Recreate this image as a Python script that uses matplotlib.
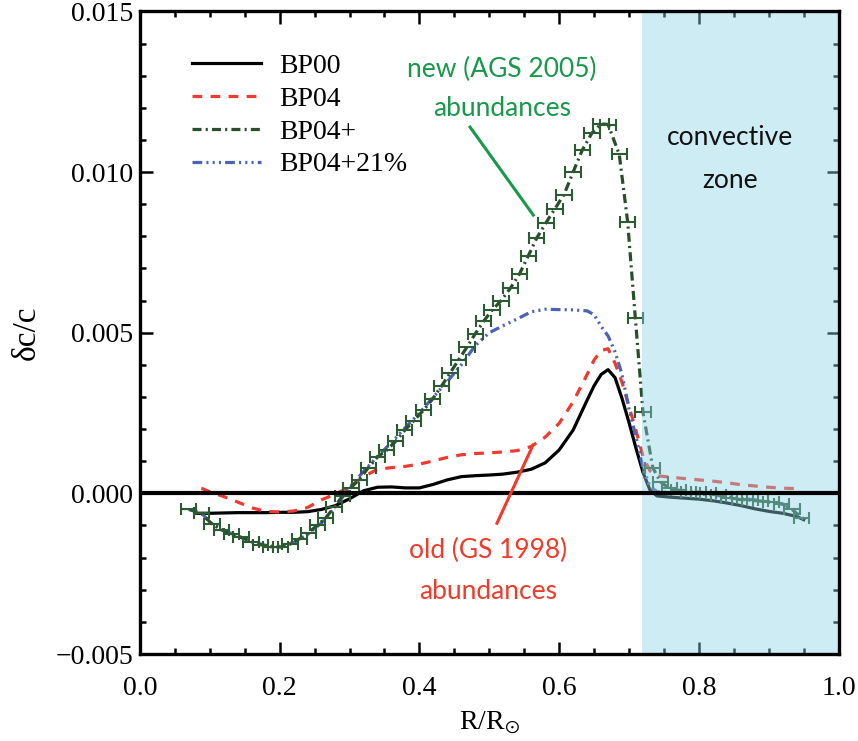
import numpy as np
import matplotlib
matplotlib.use("Agg")
import matplotlib.pyplot as plt
from matplotlib.ticker import MultipleLocator, FixedLocator, FixedFormatter
from matplotlib.lines import Line2D

plt.rcParams['font.family'] = ['Liberation Serif', 'DejaVu Serif']
plt.rcParams['mathtext.fontset'] = 'stix'
plt.rcParams['lines.scale_dashes'] = False

# ---- sound-speed differences, delta c / c, versus R / R_sun ----
r_bp00 = [0.081, 0.10, 0.12, 0.14, 0.16, 0.18, 0.20, 0.22, 0.24, 0.26, 0.28, 0.30,
          0.32, 0.34, 0.36, 0.38, 0.40, 0.42, 0.44, 0.46, 0.48, 0.50, 0.52, 0.54,
          0.56, 0.58, 0.60, 0.62, 0.64, 0.65, 0.66, 0.67, 0.68, 0.69, 0.70, 0.71,
          0.72, 0.73, 0.74, 0.76, 0.78, 0.80, 0.82, 0.84, 0.86, 0.88, 0.90, 0.92,
          0.94, 0.95]
dc_bp00 = [-0.00062, -0.00062, -0.00061, -0.00060, -0.00060, -0.00060, -0.00059,
           -0.00059, -0.00057, -0.00050, -0.00038, -0.00017, 0.00008, 0.00019,
           0.00020, 0.00017, 0.00017, 0.00028, 0.00042, 0.00052, 0.00055, 0.00057,
           0.00060, 0.00066, 0.00075, 0.00095, 0.00135, 0.00197, 0.00290, 0.00335,
           0.00370, 0.00385, 0.00360, 0.00295, 0.00220, 0.00140, 0.00065, 0.00010,
           -0.00008, -0.00012, -0.00015, -0.00018, -0.00023, -0.00030, -0.00038,
           -0.00048, -0.00056, -0.00062, -0.00072, -0.00082]

r_bp04 = [0.088, 0.10, 0.12, 0.14, 0.16, 0.18, 0.20, 0.22, 0.24, 0.26, 0.28, 0.30,
          0.32, 0.34, 0.36, 0.38, 0.40, 0.42, 0.44, 0.46, 0.48, 0.50, 0.52, 0.54,
          0.56, 0.58, 0.60, 0.62, 0.64, 0.65, 0.66, 0.67, 0.68, 0.69, 0.70, 0.71,
          0.72, 0.73, 0.74, 0.76, 0.78, 0.80, 0.82, 0.84, 0.86, 0.88, 0.90, 0.92,
          0.94]
dc_bp04 = [0.00016, 0.00005, -0.00010, -0.00027, -0.00045, -0.00056, -0.00058,
           -0.00055, -0.00044, -0.00020, -0.00002, 0.00020, 0.00052, 0.00075,
           0.00080, 0.00084, 0.00091, 0.00101, 0.00112, 0.00120, 0.00124, 0.00126,
           0.00129, 0.00133, 0.00146, 0.00175, 0.00218, 0.00285, 0.00370, 0.00415,
           0.00445, 0.00450, 0.00405, 0.00345, 0.00270, 0.00195, 0.00115, 0.00070,
           0.00055, 0.00050, 0.00046, 0.00042, 0.00038, 0.00033, 0.00027, 0.00023,
           0.00019, 0.00016, 0.00015]

r_bp04p = [0.070, 0.088, 0.103, 0.117, 0.131, 0.145, 0.159, 0.173, 0.187, 0.201,
           0.215, 0.228, 0.241, 0.254, 0.266, 0.278, 0.290, 0.302, 0.314, 0.327,
           0.340, 0.353, 0.366, 0.379, 0.392, 0.406, 0.419, 0.432, 0.444, 0.456,
           0.468, 0.480, 0.492, 0.504, 0.517, 0.530, 0.543, 0.556, 0.568, 0.581,
           0.594, 0.607, 0.620, 0.633, 0.647, 0.660, 0.670, 0.686, 0.698, 0.709,
           0.720, 0.734, 0.745, 0.758, 0.771, 0.785, 0.799, 0.813, 0.828, 0.843,
           0.858, 0.873, 0.888, 0.903, 0.918, 0.933, 0.947]
dc_bp04p = [-0.00050, -0.00062, -0.00095, -0.00114, -0.00125, -0.00137, -0.00150,
            -0.00160, -0.00166, -0.00167, -0.00158, -0.00142, -0.00122, -0.00100,
            -0.00076, -0.00044, -0.00008, 0.00018, 0.00043, 0.00080, 0.00113,
            0.00134, 0.00162, 0.00196, 0.00226, 0.00259, 0.00294, 0.00335, 0.00375,
            0.00415, 0.00455, 0.00497, 0.00536, 0.00570, 0.00600, 0.00638, 0.00682,
            0.00740, 0.00795, 0.00842, 0.00886, 0.00930, 0.01000, 0.01068, 0.01122,
            0.01150, 0.01148, 0.01055, 0.00845, 0.00545, 0.00252, 0.00080, 0.00035,
            0.00016, 0.00010, 0.00005, 0.00004, 0.00001, -0.00004, -0.00013,
            -0.00019, -0.00021, -0.00024, -0.00028, -0.00033, -0.00048, -0.00078]
r_err = 0.011

r_bp04p21 = [0.088, 0.10, 0.12, 0.14, 0.16, 0.18, 0.20, 0.22, 0.24, 0.26, 0.28, 0.30,
             0.32, 0.34, 0.36, 0.38, 0.40, 0.42, 0.44, 0.46, 0.48, 0.50, 0.52, 0.54,
             0.56, 0.58, 0.60, 0.62, 0.64, 0.65, 0.66, 0.67, 0.68, 0.69, 0.70, 0.71,
             0.72, 0.73, 0.74, 0.76, 0.78, 0.80, 0.82, 0.84, 0.86, 0.88, 0.90, 0.92,
             0.94, 0.95]
dc_bp04p21 = [-0.00060, -0.00090, -0.00115, -0.00133, -0.00150, -0.00162, -0.00165,
              -0.00153, -0.00128, -0.00092, -0.00042, 0.00018, 0.00068, 0.00115,
              0.00158, 0.00205, 0.00250, 0.00300, 0.00348, 0.00400, 0.00460,
              0.00500, 0.00522, 0.00543, 0.00565, 0.00573, 0.00572, 0.00571,
              0.00568, 0.00556, 0.00520, 0.00490, 0.00440, 0.00370, 0.00262,
              0.00175, 0.00078, 0.00022, 0.00005, 0.00002, 0.00000, -0.00002,
              -0.00005, -0.00010, -0.00016, -0.00020, -0.00026, -0.00033, -0.00060,
              -0.00080]

series_labels = ["BP00", "BP04", "BP04+", "BP04+21%"]
r_base_cz = 0.718

x_ticks = [0.0, 0.2, 0.4, 0.6, 0.8, 1.0]
x_ticklabels = ["0.0", "0.2", "0.4", "0.6", "0.8", "1.0"]
y_ticks = [-0.005, 0.0, 0.005, 0.010, 0.015]
y_ticklabels = ["\u22120.005", "0.000", "0.005", "0.010", "0.015"]

# ---- styles ----
c_red = "#EE3A2F"
c_green = "#2A4D2B"
c_blue = "#4A62B8"
c_err = "#2B5A33"
c_note_green = "#17984A"
c_note_red = "#EE3B2B"
ls_red = (0, (7, 6))
ls_green = (0, (6.5, 3, 1.5, 3))
ls_blue = (0, (7, 3, 1.5, 3, 1.5, 3, 1.5, 3))

fig = plt.figure(figsize=(8.58, 7.41), dpi=100)
ax = fig.add_axes([0.163, 0.1174, 0.8145, 0.8672])

lw = 2.3
ax.plot(r_bp00, dc_bp00, color="black", lw=lw, zorder=2)
ax.plot(r_bp04, dc_bp04, color=c_red, lw=lw, ls=ls_red, zorder=2)
ax.plot(r_bp04p21, dc_bp04p21, color=c_blue, lw=lw, ls=ls_blue, zorder=2)
ax.plot(r_bp04p, dc_bp04p, color=c_green, lw=lw, ls=ls_green, zorder=2.2)
ax.errorbar(r_bp04p, dc_bp04p, xerr=r_err, fmt='none', ecolor=c_err,
            elinewidth=1.5, capsize=4.6, capthick=1.5, zorder=2.4)

# convective zone shading
ax.axvspan(r_base_cz, 1.0, color="#8CD2E6", alpha=0.42, lw=0, zorder=3)
ax.axhline(0.0, color="black", lw=3.0, zorder=4)

ax.set_xlim(0.0, 1.0)
ax.set_ylim(-0.005, 0.015)

ax.xaxis.set_major_locator(FixedLocator(x_ticks))
ax.xaxis.set_major_formatter(FixedFormatter(x_ticklabels))
ax.xaxis.set_minor_locator(MultipleLocator(0.05))
ax.yaxis.set_major_locator(FixedLocator(y_ticks))
ax.yaxis.set_major_formatter(FixedFormatter(y_ticklabels))
ax.yaxis.set_minor_locator(MultipleLocator(0.001))

ax.tick_params(which="both", direction="in", top=True, right=True, width=1.8,
               color="black")
ax.tick_params(which="major", length=9, labelsize=20)
ax.tick_params(which="minor", length=4.5)
ax.tick_params(axis="x", which="major", pad=16)
ax.tick_params(axis="y", which="major", pad=5)
for sp in ax.spines.values():
    sp.set_linewidth(2.4)
    sp.set_zorder(6)

ax.set_xlabel(r"R/R$_{\odot}$", fontsize=20, labelpad=6)
ax.set_ylabel("\u03b4c/c", fontsize=24, labelpad=10)

# legend
handles = [
    Line2D([], [], color="black", lw=lw),
    Line2D([], [], color=c_red, lw=lw, ls=ls_red),
    Line2D([], [], color=c_green, lw=lw, ls=ls_green),
    Line2D([], [], color=c_blue, lw=lw, ls=ls_blue),
]
ax.legend(handles, series_labels, loc="upper left", bbox_to_anchor=(0.074, 0.935),
          frameon=False, fontsize=20, handlelength=2.5, handletextpad=0.65,
          labelspacing=0.27, borderpad=0, borderaxespad=0)

# annotations
note_font = ["Lato", "DejaVu Sans"]
ax.text(0.518, 0.01295, "new (AGS 2005)", color=c_note_green, fontsize=19,
        family=note_font, ha="center", va="baseline", zorder=5)
ax.text(0.518, 0.01175, "abundances", color=c_note_green, fontsize=19,
        family=note_font, ha="center", va="baseline", zorder=5)
ax.plot([0.4725, 0.563], [0.0114, 0.00866], color=c_note_green, lw=2.2, zorder=5)

ax.text(0.498, -0.00201, "old (GS 1998)", color=c_note_red, fontsize=19,
        family=note_font, ha="center", va="baseline", zorder=5)
ax.text(0.498, -0.00330, "abundances", color=c_note_red, fontsize=19,
        family=note_font, ha="center", va="baseline", zorder=5)
ax.plot([0.511, 0.5625], [-0.00093, 0.0015], color=c_note_red, lw=2.2, zorder=5)

ax.text(0.845, 0.01083, "convective", color="#111111", fontsize=19,
        family=note_font, ha="center", va="baseline", zorder=5)
ax.text(0.845, 0.0095, "zone", color="#111111", fontsize=19,
        family=note_font, ha="center", va="baseline", zorder=5)

fig.savefig("out.png", dpi=100)
